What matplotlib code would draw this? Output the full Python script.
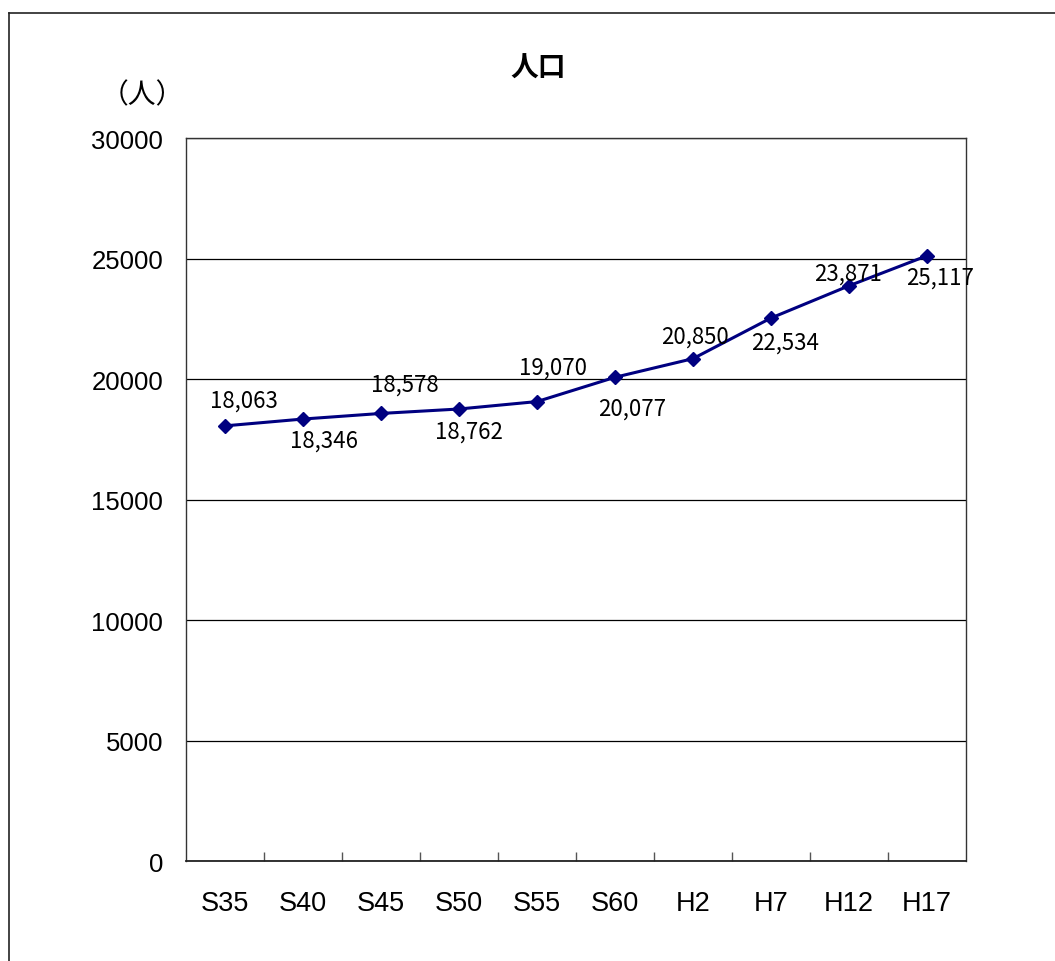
import matplotlib.pyplot as plt
import numpy as np

plt.rcParams['font.family'] = ['Liberation Sans', 'DejaVu Sans']
JP = ['Noto Sans CJK JP', 'DejaVu Sans']

years = ['S35', 'S40', 'S45', 'S50', 'S55', 'S60', 'H2', 'H7', 'H12', 'H17']
population = [18063, 18346, 18578, 18762, 19070, 20077, 20850, 22534, 23871, 25117]

# ラベルのずれ (ピクセル)
label_dx = [19, 21, 24, 10, 16, 17, 2, 14, -1, 13]
label_dy = [26, -21, 29, -22, 34, -31, 23, -24, 13, -21]

fig = plt.figure(figsize=(10.55, 9.62), dpi=100)
ax = fig.add_axes([0.1763, 0.1035, 0.7393, 0.752])

x = np.arange(len(years))
ax.plot(x, population, color='#000080', lw=2.2, marker='D', ms=7.2,
        markerfacecolor='#000080', markeredgecolor='#000080', zorder=3)

for xi, v, dx, dy in zip(x, population, label_dx, label_dy):
    ax.annotate(f'{v:,}', (xi, v), xytext=(dx, dy), textcoords='offset pixels',
                ha='center', va='center', fontsize=16, family=JP, zorder=4)

ax.set_xlim(-0.5, len(years) - 0.5)
ax.set_ylim(0, 30000)
ax.set_yticks(np.arange(0, 30001, 5000))
ax.yaxis.grid(True, color='black', lw=0.9)
ax.set_axisbelow(True)

ax.set_xticks(x)
ax.set_xticklabels(years)
ax.set_xticks(np.arange(0.5, len(years) - 1, 1), minor=True)
ax.tick_params(axis='x', which='major', length=0, pad=20.5, labelsize=19.5)
ax.tick_params(axis='x', which='minor', direction='in', length=6.5, width=1, color='#555555')
ax.tick_params(axis='y', length=0, pad=16.5, labelsize=18.5)

for side in ['left', 'top', 'right']:
    ax.spines[side].set_color('#333333')
    ax.spines[side].set_linewidth(1)
ax.spines['bottom'].set_color('#222222')
ax.spines['bottom'].set_linewidth(1.3)

fig.text(0.51, 0.929, '人口', ha='center', va='center', fontsize=20,
         fontweight='bold', family=JP)
fig.text(0.1345, 0.901, '（人）', ha='center', va='center', fontsize=20, family=JP)

# 外枠
fig.add_artist(plt.Line2D([0.009, 0.009], [0, 0.9855], color='#222222', lw=1.2))
fig.add_artist(plt.Line2D([0.009, 1.0], [0.9855, 0.9855], color='#222222', lw=1.2))

fig.savefig('out.png', dpi=100)
